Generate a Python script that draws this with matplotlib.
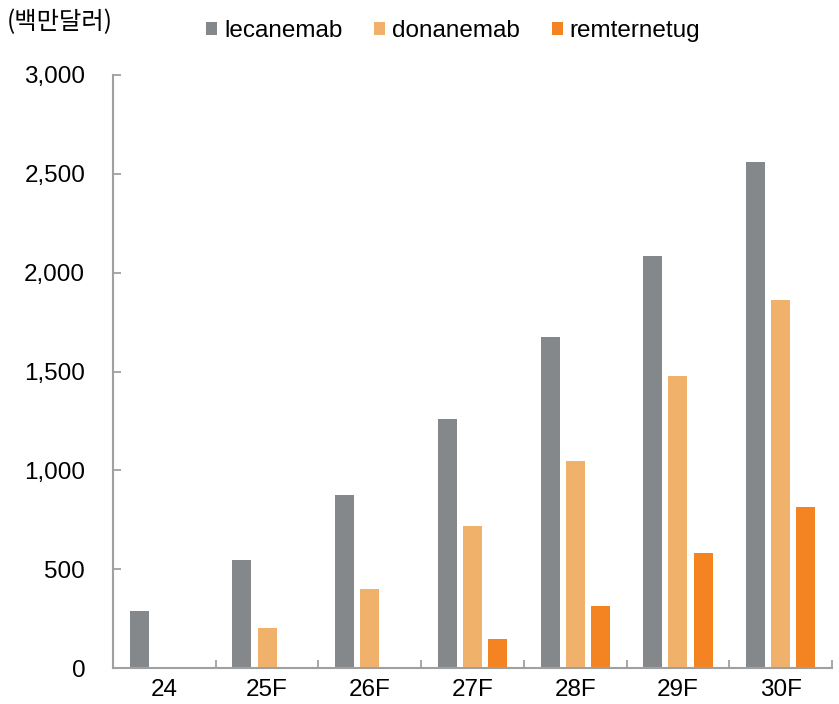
import matplotlib.pyplot as plt
import numpy as np

plt.rcParams['font.family'] = ['Liberation Sans', 'Noto Sans CJK KR', 'DejaVu Sans']

years = ["24", "25F", "26F", "27F", "28F", "29F", "30F"]
lecanemab = [290, 545, 875, 1260, 1675, 2085, 2560]
donanemab = [0, 200, 400, 718, 1047, 1477, 1862]
remternetug = [0, 0, 0, 145, 313, 580, 815]

colors = ["#85888b", "#f0b26a", "#f48421"]
names = ["lecanemab", "donanemab", "remternetug"]

fig = plt.figure(figsize=(8.39, 7.04), dpi=100)
ax = fig.add_axes([0.1347, 0.0511, 0.857, 0.8424])

x = np.arange(len(years))
w = 0.185
step = 0.245
for i, (vals, c, n) in enumerate(zip([lecanemab, donanemab, remternetug], colors, names)):
    ax.bar(x + (i - 1) * step, vals, width=w, color=c, label=n, zorder=2)

ax.set_xlim(-0.5, len(years) - 0.5)
ax.set_ylim(0, 3000)
ax.set_yticks(np.arange(0, 3001, 500))
ax.set_yticklabels([f"{v:,}" for v in range(0, 3001, 500)])

ax.set_xticks(x)
ax.set_xticklabels(years)
ax.set_xticks(np.arange(0.5, len(years), 1), minor=True)
ax.tick_params(axis='x', which='major', length=0, pad=8, labelsize=17.5)
ax.tick_params(axis='x', which='minor', direction='in', length=6, width=1.3, color='#a0a0a0')
ax.tick_params(axis='y', direction='in', length=6, width=1.3, color='#a0a0a0', pad=20, labelsize=17.5)

for side in ['top', 'right']:
    ax.spines[side].set_visible(False)
for side in ['left', 'bottom']:
    ax.spines[side].set_color('#a0a0a0')
    ax.spines[side].set_linewidth(1.5)

fig.text(0.008, 0.968, "(백만달러)", fontsize=17.5, family=['Noto Sans CJK KR', 'DejaVu Sans'],
         ha='left', va='center')

fig.legend(loc='center', bbox_to_anchor=(0.54, 0.956), ncol=3, frameon=False,
           fontsize=17.5, handlelength=0.45, handleheight=0.45, handletextpad=0.3,
           columnspacing=1.3)

fig.savefig("out.png", dpi=100)
